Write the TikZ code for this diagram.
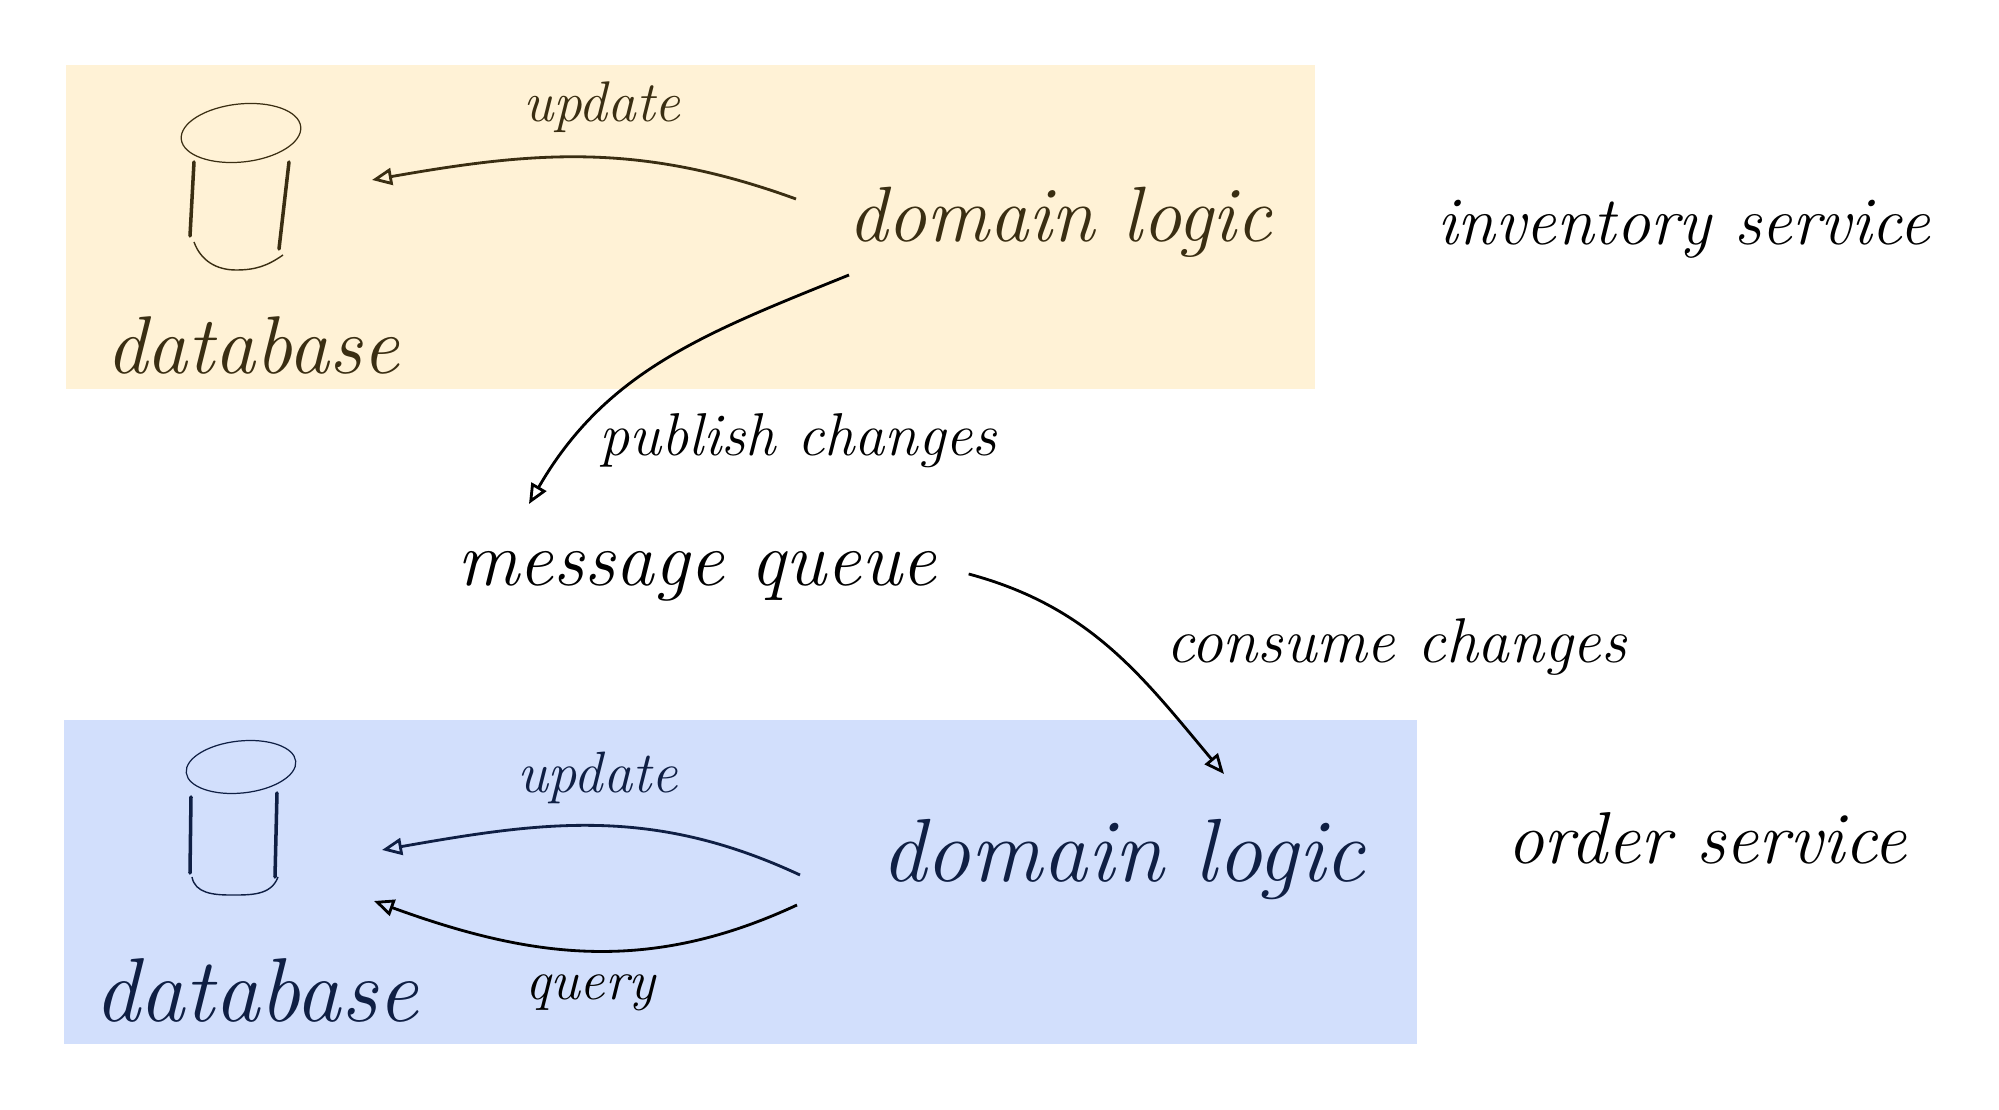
\documentclass[tikz,border=0pt]{standalone}
\usepackage{tikz}
\usetikzlibrary{shapes.geometric, arrows.meta}
\definecolor{invink}{HTML}{3A2E12}
\definecolor{ordink}{HTML}{0F1F44}
\definecolor{invfill}{HTML}{FFF2D6}
\definecolor{ordfill}{HTML}{D2DFFC}
\newcommand{\handsize}[1]{\fontsize{#1}{#1}\selectfont\itshape}

\begin{document}
\begin{tikzpicture}[
    x=0.01cm, y=-0.01cm,
    panel/.style={rectangle, draw=none, anchor=north west, inner sep=0pt, outer sep=0pt},
    hand/.style={anchor=base west, inner sep=0pt, outer sep=0pt},
    dbtop/.style={ellipse, draw, line width=0.35pt, inner sep=0pt, outer sep=0pt, rotate=6},
    dbside/.style={line width=1pt, line cap=round},
    line/.style={line width=0.8pt, -{Triangle[open, length=0.2cm, width=0.17cm]}}
]
\useasboundingbox (0,0) rectangle (1999,1110);

% Panels
\node[panel, fill=invfill, minimum width=12.48cm, minimum height=3.24cm] (invbox) at (66,65) {};
\node[panel, fill=ordfill, minimum width=13.52cm, minimum height=3.24cm] (ordbox) at (64,720) {};

% Inventory service
\node[dbtop, invink, minimum width=1.2cm, minimum height=0.58cm] (invtop) at (241,133) {};
\draw[dbside, invink] (194,162) -- (190,236);
\draw[dbside, invink] (289,162) -- (279,249);
\draw[invink, line width=0.4pt] (194,242) to[out=-70, in=180] (236,270) to[out=0, in=215] (283,255);
\node[hand, invink, font=\handsize{23.3}] (invdb) at (106,374) {database};
\node[hand, invink, font=\handsize{22.3}] (invlogic) at (848,242) {domain logic};
\node[hand, invink, font=\handsize{16.3}] (invupdate) at (523,122) {update};
\node[hand, font=\handsize{19.4}] (invname) at (1437,245) {inventory service};

% Queue
\node[hand, font=\handsize{22}] (queue) at (457,586) {message queue};
\node[hand, font=\handsize{17.2}] (publish) at (599,456) {publish changes};
\node[hand, font=\handsize{18}] (consume) at (1166,663) {consume changes};

% Order service
\node[dbtop, ordink, minimum width=1.1cm, minimum height=0.52cm] (ordtop) at (241,767) {};
\draw[dbside, ordink] (191,797) -- (190,873);
\draw[dbside, ordink] (277,793) -- (275,877);
\draw[ordink, line width=0.4pt] (192,877) to[out=-80, in=180] (230,895) to[out=0, in=-110] (278,877);
\node[hand, ordink, font=\handsize{25.8}] (orddb) at (94,1022) {database};
\node[hand, ordink, font=\handsize{25.5}] (ordlogic) at (881,882) {domain logic};
\node[hand, ordink, font=\handsize{16.6}] (ordupdate) at (517,793) {update};
\node[hand, font=\handsize{16}] (query) at (525,1000) {query};
\node[hand, font=\handsize{20.9}] (ordname) at (1507,864) {order service};

% Draw lines
\draw[line, invink] ([shift={(-52,-43)}]invlogic.base west) to[out=160, in=10] ([shift={(131,47)}]invtop.center);
\draw[line] ([shift={(1,33)}]invlogic.base west) to[out=202, in=60] ([shift={(72,-82)}]queue.base west);
\draw[line] ([shift={(32,-12)}]queue.base east) to[out=-15, in=130] ([shift={(343,-108)}]ordlogic.base west);
\draw[line, ordink] ([shift={(-81,-7)}]ordlogic.base west) to[out=155, in=10] ([shift={(141,83)}]ordtop.center);
\draw[line] ([shift={(-84,23)}]ordlogic.base west) to[out=205, in=-20] ([shift={(133,134)}]ordtop.center);
\end{tikzpicture}
\end{document}
